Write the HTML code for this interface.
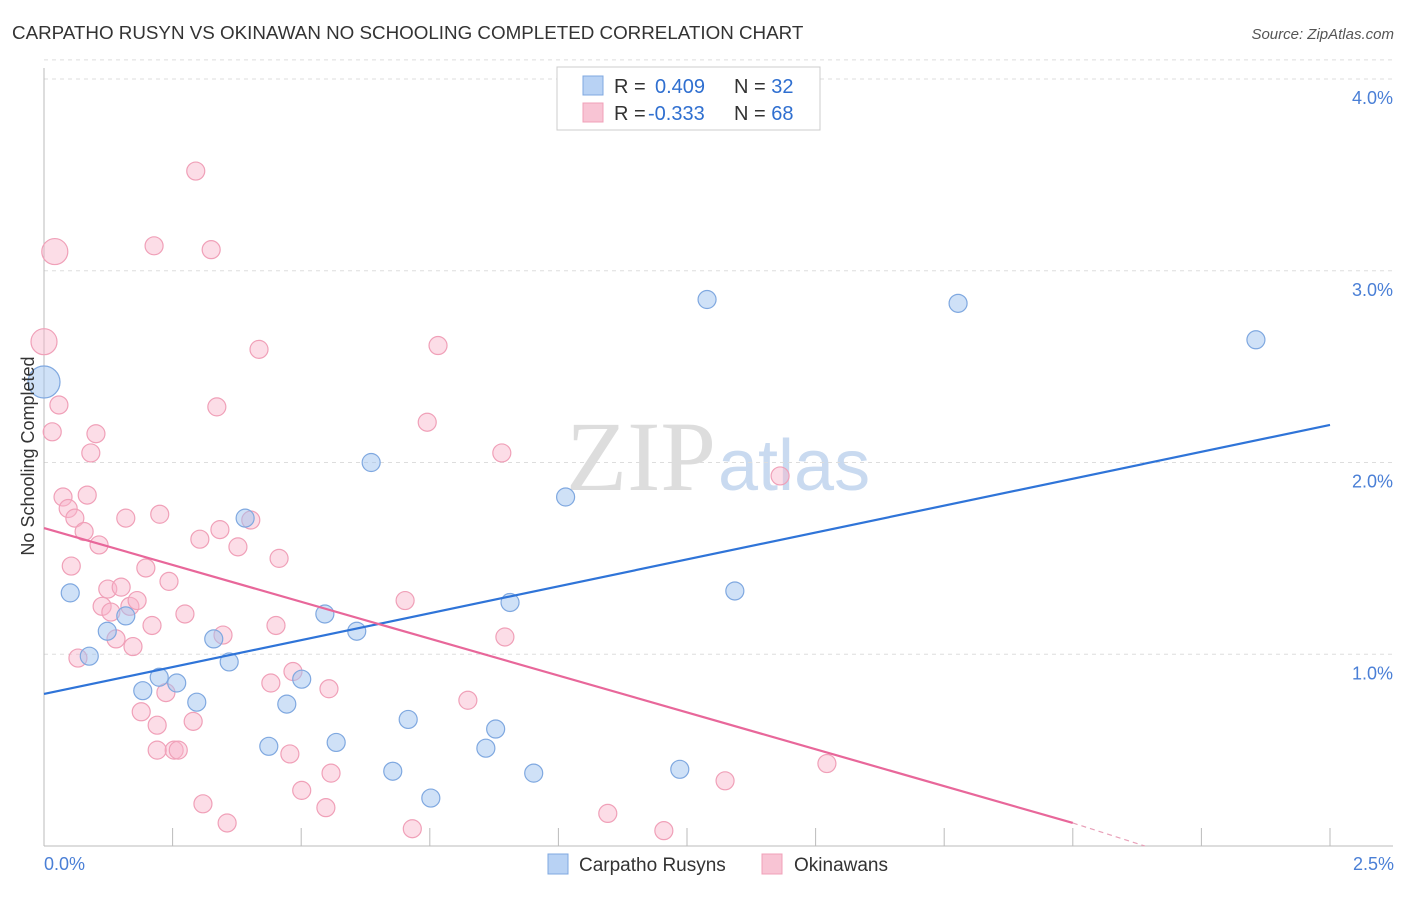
<!DOCTYPE html>
<html><head><meta charset="utf-8"><style>
body{margin:0;background:#fff;font-family:"Liberation Sans",sans-serif}
</style></head><body>
<svg id="chart" width="1406" height="892" viewBox="0 0 1406 892" xmlns="http://www.w3.org/2000/svg" font-family="Liberation Sans, sans-serif">
<text x="12" y="39" font-size="18.8" fill="#333">CARPATHO RUSYN VS OKINAWAN NO SCHOOLING COMPLETED CORRELATION CHART</text>
<text x="1394" y="39" font-size="15" fill="#555" text-anchor="end" font-style="italic">Source: ZipAtlas.com</text>
<text x="716" y="490" font-size="100" fill="#ddd" text-anchor="end" style="font-family:'Liberation Serif',serif">ZIP</text>
<text x="718" y="490" font-size="72" fill="#c9daf0">atlas</text>
<g id="grid"></g>
<g id="pts"></g>
<text transform="translate(34,456) rotate(-90)" font-size="18" fill="#333" text-anchor="middle">No Schooling Completed</text>
<text x="44" y="870" font-size="18" fill="#4a7fd6">0.0%</text>
<text x="1394" y="870" font-size="18" fill="#4a7fd6" text-anchor="end">2.5%</text>
<g>
<rect x="557" y="67" width="263" height="63" fill="#fff" stroke="#ccc"/>
<rect x="583" y="76" width="20" height="19" fill="#b8d2f4" stroke="#7fa8e0"/>
<rect x="583" y="103" width="20" height="19" fill="#f8c4d4" stroke="#f0a0b8"/>
<text x="614" y="93" font-size="20" fill="#333">R = <tspan x="655" fill="#2f6fd0">0.409</tspan><tspan x="734">N = </tspan><tspan fill="#2f6fd0">32</tspan></text>
<text x="614" y="120" font-size="20" fill="#333">R = <tspan x="648" fill="#2f6fd0">-0.333</tspan><tspan x="734">N = </tspan><tspan fill="#2f6fd0">68</tspan></text>
</g>
<g>
<rect x="548" y="854" width="20" height="20" fill="#b8d2f4" stroke="#7fa8e0"/>
<text x="579" y="871" font-size="19" fill="#333">Carpatho Rusyns</text>
<rect x="762" y="854" width="20" height="20" fill="#f8c4d4" stroke="#f0a0b8"/>
<text x="794" y="871" font-size="19" fill="#333">Okinawans</text>
</g>
</svg>
<script>
const yTicks=[1,2,3,4];
const yTickLabels=["1.0%","2.0%","3.0%","4.0%"];
const xTicks=[0,0.25,0.5,0.75,1,1.25,1.5,1.75,2,2.25,2.5];
const blueX=[0,0.051,0.088,0.123,0.159,0.192,0.224,0.258,0.297,0.33,0.36,0.391,0.437,0.472,0.501,0.546,0.568,0.608,0.636,0.678,0.708,0.752,0.859,0.878,0.906,0.952,1.014,1.236,1.289,1.343,1.777,2.356];
const blueY=[2.42,1.32,0.99,1.12,1.20,0.81,0.88,0.85,0.75,1.08,0.96,1.71,0.52,0.74,0.87,1.21,0.54,1.12,2.00,0.39,0.66,0.25,0.51,0.61,1.27,0.38,1.82,0.40,2.85,1.33,2.83,2.64];
const blueR=[16,9,9,9,9,9,9,9,9,9,9,9,9,9,9,9,9,9,9,9,9,9,9,9,9,9,9,9,9,9,9,9];
const pinkX=[0.021,0,0.029,0.016,0.101,0.091,0.037,0.084,0.047,0.06,0.078,0.107,0.159,0.225,0.295,0.214,0.325,0.418,0.336,0.766,0.745,0.89,1.431,0.053,0.124,0.15,0.198,0.243,0.113,0.13,0.167,0.181,0.21,0.274,0.14,0.173,0.066,0.303,0.342,0.377,0.402,0.457,0.348,0.451,0.189,0.237,0.22,0.29,0.253,0.261,0.441,0.484,0.554,0.478,0.558,0.501,0.548,0.309,0.356,0.702,0.896,0.824,0.716,1.096,1.205,1.324,1.522,0.22];
const pinkY=[3.10,2.63,2.30,2.16,2.15,2.05,1.82,1.83,1.76,1.71,1.64,1.57,1.71,1.73,3.52,3.13,3.11,2.59,2.29,2.61,2.21,2.05,1.93,1.46,1.34,1.35,1.45,1.38,1.25,1.22,1.25,1.28,1.15,1.21,1.08,1.04,0.98,1.60,1.65,1.56,1.70,1.50,1.10,1.15,0.70,0.80,0.63,0.65,0.50,0.50,0.85,0.91,0.82,0.48,0.38,0.29,0.20,0.22,0.12,1.28,1.09,0.76,0.09,0.17,0.08,0.34,0.43,0.50];
const pinkR=[13,13,9,9,9,9,9,9,9,9,9,9,9,9,9,9,9,9,9,9,9,9,9,9,9,9,9,9,9,9,9,9,9,9,9,9,9,9,9,9,9,9,9,9,9,9,9,9,9,9,9,9,9,9,9,9,9,9,9,9,9,9,9,9,9,9,9,9];
const blueLine=[[0,0.793],[2.5,2.196]];
const pinkLine=[[0,1.658],[2.0,0.12]];
const pinkDash=[[2.0,0.12],[2.14,0]];
const X=v=>44+v/2.5*1286;
const Y=v=>846-v*191.75;
const NS="http://www.w3.org/2000/svg";
function mk(t,a,p){const e=document.createElementNS(NS,t);for(const k in a)e.setAttribute(k,a[k]);p.appendChild(e);return e;}
const grid=document.getElementById('grid');
yTicks.forEach((t,i)=>{
 const l=mk('line',{x1:44,x2:1393,y1:Y(t),y2:Y(t),stroke:'#ddd','stroke-dasharray':'4,4'},grid);
 
 
 const tx=mk('text',{x:1393,y:Y(t)+25,'font-size':18,fill:'#4a7fd6','text-anchor':'end'},grid);
 tx.textContent=yTickLabels[i];
 
 
});
const topGrid=mk('line',{x1:44,x2:1393,y1:Y(4.1),y2:Y(4.1),stroke:'#ddd','stroke-dasharray':'4,4'},grid);


const ya=mk('line',{x1:44,x2:44,y1:68,y2:846,stroke:'#bbb'},grid);


const xa=mk('line',{x1:44,x2:1393,y1:846,y2:846,stroke:'#bbb'},grid);


xTicks.forEach(t=>{
 const l=mk('line',{x1:X(t),x2:X(t),y1:828,y2:846,stroke:'#bbb'},grid);
 
 
});
const pts=document.getElementById('pts');
pinkX.forEach((x,i)=>{
 const c=mk('circle',{cx:X(x),cy:Y(pinkY[i]),r:pinkR[i],fill:'rgba(248,180,202,0.45)',stroke:'#f0a0b8','stroke-width':1.2},pts);
 
 
});
blueX.forEach((x,i)=>{
 const c=mk('circle',{cx:X(x),cy:Y(blueY[i]),r:blueR[i],fill:'rgba(160,196,240,0.5)',stroke:'#7fa8e0','stroke-width':1.2},pts);
 
 
});
const bl=mk('line',{x1:X(blueLine[0][0]),y1:Y(blueLine[0][1]),x2:X(blueLine[1][0]),y2:Y(blueLine[1][1]),stroke:'#2f74d8','stroke-width':2.2},pts);


const pl=mk('line',{x1:X(pinkLine[0][0]),y1:Y(pinkLine[0][1]),x2:X(pinkLine[1][0]),y2:Y(pinkLine[1][1]),stroke:'#e8679a','stroke-width':2.2},pts);


const pd=mk('line',{x1:X(pinkDash[0][0]),y1:Y(pinkDash[0][1]),x2:X(pinkDash[1][0]),y2:Y(pinkDash[1][1]),stroke:'#e8a0b8','stroke-width':1.2,'stroke-dasharray':'5,4'},pts);


</script>
</body></html>
